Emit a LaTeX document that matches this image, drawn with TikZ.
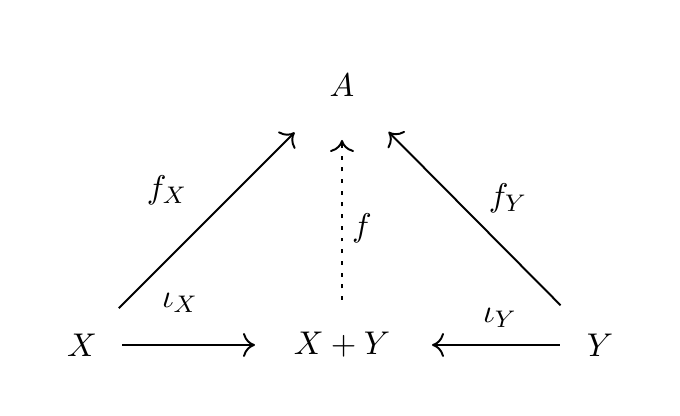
\documentclass[tikz,border=0pt]{standalone}
\usepackage{xcolor,tikz}
\usetikzlibrary{arrows.meta}
\tikzset{
  mapto/.style={line width=0.65pt,-{To[length=4pt,width=8pt]}},
  dotmap/.style={mapto,dash pattern=on 1.3pt off 2.6pt},
  obj/.style={inner sep=0,font=\fontsize{10.8}{13}\selectfont},
  lab/.style={inner sep=0,font=\fontsize{10.8}{13}\selectfont}
}
\begin{document}
\begin{tikzpicture}[x=0.3333pt,y=-0.3333pt]
\useasboundingbox (0,0) rectangle (680,416);
\node[obj] (A) at (342,85) {$A$};
\node[obj] (X) at (82,345) {$X$};
\node[obj] (XY) at (342,345) {$X+Y$};
\node[obj] (Y) at (600,345) {$Y$};
% legs into A
\draw[mapto,shorten <=52pt/3,shorten >=67pt/3] (X.center) -- (A.center);
\draw[mapto,shorten <=56pt/3,shorten >=66pt/3] (Y.center) -- (A.center);
\draw[dotmap,shorten <=45pt/3,shorten >=55pt/3] (XY.center) -- (A.center);
% injections
\draw[mapto,shorten <=40pt/3,shorten >=87pt/3] (X.center) -- (XY.center);
\draw[mapto,shorten <=40pt/3,shorten >=90pt/3] (Y.center) -- (XY.center);
\node[lab] (fX) at (167,190) {$f_X$};
\node[lab] (fY) at (508,198) {$f_Y$};
\node[lab] (f) at (362,228) {$f$};
\node[lab] (iX) at (180,303) {$\iota_X$};
\node[lab] (iY) at (500,318) {$\iota_Y$};
\end{tikzpicture}
\end{document}
